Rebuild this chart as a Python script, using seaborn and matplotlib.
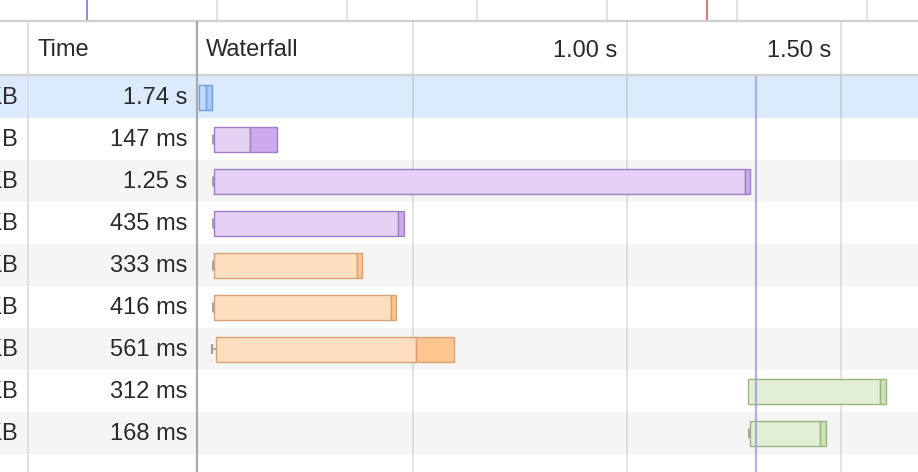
import matplotlib
matplotlib.use("Agg")
import matplotlib.pyplot as plt
import seaborn as sns
from matplotlib import transforms

# ---------------- data ----------------
size_labels = ["12.4 KB", "547 B", "85.2 KB", "23.1 KB", "5.6 KB", "9.8 KB", "41.7 KB", "13.3 KB", "2.9 KB"]
time_labels = ["1.74 s", "147 ms", "1.25 s", "435 ms", "333 ms", "416 ms", "561 ms", "312 ms", "168 ms"]
resource_type = ["document", "stylesheet", "stylesheet", "stylesheet",
                 "script", "script", "script", "image", "image"]
queue_start = [None, 0.033, 0.033, 0.033, 0.033, 0.033, 0.031, None, 1.285]
bar_start = [0.0, 0.035, 0.035, 0.035, 0.035, 0.035, 0.040, 1.283, 1.287]
wait_end = [0.016, 0.119, 1.276, 0.466, 0.368, 0.449, 0.507, 1.591, 1.451]
bar_end = [0.030, 0.182, 1.287, 0.479, 0.381, 0.460, 0.596, 1.604, 1.465]
grid_ticks = [0.5, 1.0, 1.5]
tick_labels = ["", "1.00 s", "1.50 s"]
dcl_time = 1.301
overview_ticks = [0.5, 1.0, 1.5, 2.0, 2.5, 3.0, 3.5]
overview_dcl = 0.5
overview_load = 2.885

colors = {
    "document": ("#c3dbf6", "#a7c8f2", "#6e9fe0"),
    "stylesheet": ("#e3d0f3", "#cdaaec", "#9f80c8"),
    "script": ("#fddfc0", "#fdc68f", "#d7a273"),
    "image": ("#e2efd5", "#cce3b1", "#99b47f"),
}

# ---------------- figure ----------------
sns.set_theme(style="white")
plt.rcParams["font.family"] = ["Liberation Sans", "DejaVu Sans"]
W, H = 918, 472
ROW = 42
TXT = "#2a2a2a"
FS = 17

fig = plt.figure(figsize=(W / 100, H / 100), dpi=100)
fig.patch.set_facecolor("white")


def rect(x0, y0, x1, y1):
    return [x0 / W, 1 - y1 / H, (x1 - x0) / W, (y1 - y0) / H]


# background / table axes (pixel x, row y)
n_vis = (H - 76) / ROW
tbl = fig.add_axes(rect(0, 76, W, H))
tbl.set_xlim(0, W)
tbl.set_ylim(n_vis, 0)
tbl.axis("off")
for i in range(int(n_vis) + 1):
    if i == 0:
        c = "#dbeafc"
    elif i % 2 == 0:
        c = "#f5f5f5"
    else:
        c = "white"
    tbl.axhspan(i, i + 1, color=c, zorder=0, lw=0)
for i, (s, t) in enumerate(zip(size_labels, time_labels)):
    tbl.text(18, i + 28 / ROW, s, ha="right", va="baseline", fontsize=FS, color=TXT, clip_on=True)
    tbl.text(187.5, i + 28 / ROW, t, ha="right", va="baseline", fontsize=FS, color=TXT)

# full-figure overlay for borders
ov = fig.add_axes([0, 0, 1, 1])
ov.set_xlim(0, W)
ov.set_ylim(H, 0)
ov.axis("off")
ov.patch.set_alpha(0)

# header
hd = fig.add_axes(rect(198, 22, W, 75))
hd.set_xlim((198 - 199) / 428, (W - 199) / 428)
hd.set_ylim(1, 0)
hd.axis("off")
for t in grid_ticks:
    hd.axvline(t, color="#e0e0e0", lw=1.4)
hd.text(206, 56, "Waterfall", transform=ov.transData, fontsize=FS, color=TXT, va="baseline")
ov.text(37, 56, "Time", fontsize=FS, color=TXT, va="baseline")
off = transforms.offset_copy(hd.transData, fig=fig, x=-10, y=0, units="dots")
for t, lab in zip(grid_ticks, tick_labels):
    if lab:
        hd.text(t, 0.665, lab, transform=off, ha="right", va="baseline", fontsize=FS, color=TXT)

# waterfall body
wf = fig.add_axes(rect(198, 76, W, H))
wf.patch.set_alpha(0)
wf.set_xlim((198 - 199) / 428, (W - 199) / 428)
wf.set_ylim(n_vis, 0)
for sp in wf.spines.values():
    sp.set_visible(False)
wf.set_xticks([])
wf.set_yticks([])
for t in grid_ticks:
    wf.axvline(t, color=(0, 0, 0, 0.1), lw=1.5, zorder=1)

bh = 25 / ROW
for i in range(len(time_labels)):
    light, dark, edge = colors[resource_type[i]]
    y = i + 0.5
    q = queue_start[i]
    if q is not None:
        if bar_start[i] - q > 0.004:
            wf.plot([q, bar_start[i]], [y, y], color="#a0a0a0", lw=1.2, zorder=2)
            wf.plot([q, q], [y - 0.11, y + 0.11], color="#a0a0a0", lw=1.6,
                    solid_capstyle="butt", zorder=2)
        else:
            wf.plot([q, q], [y - 0.13, y + 0.13], color="#a3a3a3", lw=2.2,
                    solid_capstyle="butt", zorder=2)
    wf.barh(y, wait_end[i] - bar_start[i], left=bar_start[i], height=bh,
            color=light, edgecolor=edge, lw=1.0, zorder=3)
    wf.barh(y, bar_end[i] - wait_end[i], left=wait_end[i], height=bh,
            color=dark, edgecolor=edge, lw=1.0, zorder=3)
wf.axvline(dcl_time, color="#9c9ee0", lw=1.6, alpha=0.8, zorder=4)

# overview strip
top = fig.add_axes(rect(0, 0, W, 21))
top.set_xlim(43 / 260, (W + 43) / 260)
top.set_ylim(0, 1)
top.axis("off")
for t in overview_ticks:
    top.axvline(t, color="#e3e3e3", lw=1.4)
top.axvline(overview_dcl, color="#8a8ae6", lw=1.4)
top.axvline(overview_load, color="#e67373", lw=1.4)

# borders
ov.plot([0, W], [21, 21], color="#cfcfcf", lw=1.6)
ov.plot([0, W], [75, 75], color="#cfcfcf", lw=1.6)
ov.plot([27.5, 27.5], [22, H], color="#dcdcdc", lw=1.2)
ov.plot([197.2, 197.2], [22, H], color="#a9a9a9", lw=1.6)
ov.set_zorder(5)

fig.savefig("out.png", dpi=100)
